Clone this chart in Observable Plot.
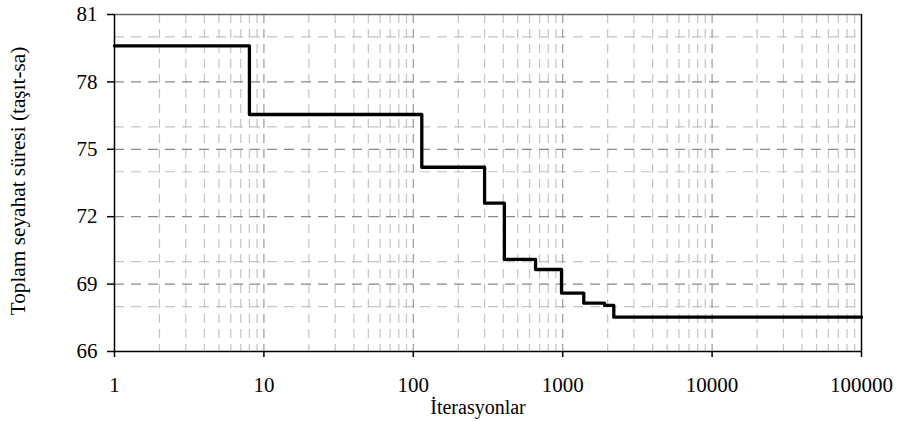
<!DOCTYPE html>
<html>
<head>
<meta charset="utf-8">
<script src="https://cdn.jsdelivr.net/npm/d3@7"></script>
<script src="https://cdn.jsdelivr.net/npm/@observablehq/plot@0.6"></script>
<style>
  html, body { margin: 0; padding: 0; background: #fff; }
  #chart svg { display: block; }
  #chart svg text { font-family: 'Liberation Serif', 'Times New Roman', serif; }
</style>
</head>
<body>
<div id="chart"></div>
<script>
// Data
const iterations = [1, 8, 114, 300, 407, 658, 982, 1384, 1905, 2198, 100000];
const travelTime = [79.6, 76.55, 74.2, 72.6, 70.1, 69.65, 68.6, 68.15, 68.05, 67.53, 67.53];

const xTicks = [1, 10, 100, 1000, 10000, 100000];
const yTicks = [66, 69, 72, 75, 78, 81];
const yMinor = [68, 70, 74, 76, 80];
const xMinor = [];
for (const d of [1, 10, 100, 1000, 10000]) for (let k = 2; k <= 9; k++) xMinor.push(k * d);
const xMajorGrid = [10, 100, 1000, 10000];
const yMajorGrid = [69, 72, 75, 78];

const xLabel = "İterasyonlar";
const yLabel = "Toplam seyahat süresi (taşıt-sa)";

const data = iterations.map((x, i) => ({x, y: travelTime[i]}));
const serif = "'Liberation Serif', 'Times New Roman', serif";

const chart = Plot.plot({
  width: 899,
  height: 421,
  marginLeft: 114,
  marginRight: 38,
  marginTop: 14,
  marginBottom: 70,
  style: {fontFamily: serif, background: "#fff"},
  x: {type: "log", domain: [1, 100000]},
  y: {domain: [66, 81]},
  marks: [
    Plot.ruleX(xMinor, {stroke: "#c4c4c4", strokeDasharray: "9,6", strokeWidth: 1.2}),
    Plot.ruleY(yMinor, {stroke: "#c4c4c4", strokeDasharray: "10,7", strokeWidth: 1.2}),
    Plot.ruleX(xMajorGrid, {stroke: "#9a9a9a", strokeDasharray: "9,6", strokeWidth: 1.2}),
    Plot.ruleY(yMajorGrid, {stroke: "#8a8a8a", strokeDasharray: "10,7", strokeWidth: 1.2}),
    Plot.ruleY([81], {stroke: "#666", strokeWidth: 1.5}),
    Plot.ruleX([100000], {stroke: "#000", strokeWidth: 1.5}),
    Plot.ruleX([1], {stroke: "#000", strokeWidth: 1.5}),
    Plot.ruleY([66], {stroke: "#000", strokeWidth: 1.5}),
    Plot.axisX({
      ticks: xTicks, tickFormat: d => String(d), tickSize: 6, tickPadding: 20,
      fontSize: 21, fontFamily: serif, stroke: "#000", strokeWidth: 1.5, color: "#000",
      label: null
    }),
    Plot.axisY({
      ticks: yTicks, tickSize: 7, tickPadding: 10,
      fontSize: 21, fontFamily: serif, stroke: "#000", strokeWidth: 1.5, color: "#000",
      label: null
    }),
    Plot.text([xLabel], {
      frameAnchor: "bottom", dy: 62, dx: -10, lineAnchor: "bottom",
      fontSize: 20, fontFamily: serif, fill: "#000"
    }),
    Plot.text([yLabel], {
      frameAnchor: "left", dx: -96, dy: -2, rotate: -90, textAnchor: "middle", lineAnchor: "middle",
      fontSize: 21.3, fontFamily: serif, fill: "#000"
    }),
    Plot.line(data, {x: "x", y: "y", curve: "step-after", stroke: "#000", strokeWidth: 3.3})
  ]
});

document.getElementById("chart").appendChild(chart);
</script>
</body>
</html>
